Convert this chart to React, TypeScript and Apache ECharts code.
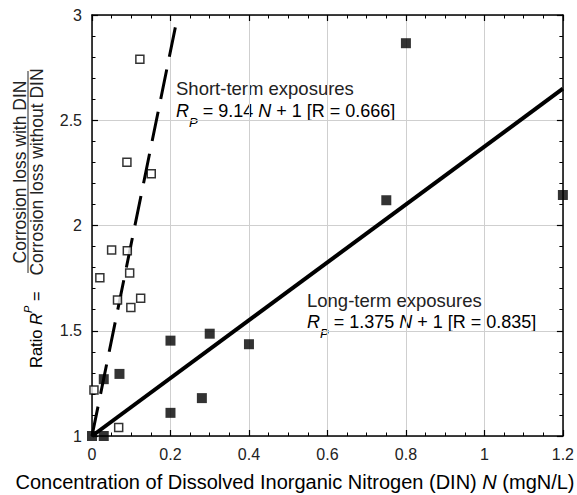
import React, { useEffect, useRef } from "react";
import * as echarts from "echarts";

const xTickValues = [0, 0.2, 0.4, 0.6, 0.8, 1, 1.2];
const yTickValues = [1, 1.5, 2, 2.5, 3];

// Long-term exposures (filled squares)
const longN = [0, 0.03, 0.03, 0.07, 0.2, 0.2, 0.28, 0.3, 0.4, 0.75, 0.8, 1.2];
const longR = [1.0, 1.0, 1.27, 1.295, 1.453, 1.11, 1.18, 1.486, 1.436, 2.12, 2.866, 2.145];

// Short-term exposures (open squares)
const shortN = [0.122, 0.089, 0.151, 0.05, 0.09, 0.096, 0.02, 0.065, 0.124, 0.099, 0.005, 0.068];
const shortR = [2.79, 2.3, 2.246, 1.884, 1.88, 1.774, 1.752, 1.646, 1.654, 1.611, 1.219, 1.04];

// Fit lines (end points)
const shortFitN = [0, 0.2188];
const shortFitR = [1, 3];
const longFitN = [0, 1.2];
const longFitR = [1, 2.65];

const FONT = '"Liberation Sans", Arial, Helvetica, sans-serif';
const TXT = "#222";

const zip = (a: number[], b: number[]) => a.map((v, i) => [v, b[i]]);

export default function App() {
  const ref = useRef<HTMLDivElement>(null);
  useEffect(() => {
    if (!ref.current) return;
    const chart = echarts.init(ref.current, null, { renderer: "svg" });
    const axisCommon = {
      type: "value" as const,
      axisLine: { show: true, onZero: false, lineStyle: { color: "#000", width: 1.5 } },
      axisTick: { show: true, inside: true, length: 6, lineStyle: { color: "#000", width: 1.2 } },
      minorTick: { show: true, length: 3.5, lineStyle: { color: "#000", width: 1 } },
    };
    const rich18 = {
      n: { fontSize: 18, fontFamily: FONT, color: TXT, lineHeight: 35 },
      i: { fontSize: 18, fontFamily: FONT, color: TXT, fontStyle: "italic", lineHeight: 35 },
      sub: { fontSize: 13, fontFamily: FONT, color: TXT, fontStyle: "italic", verticalAlign: "bottom", lineHeight: 14 },
    };
    const option: any = {
      animation: false,
      backgroundColor: "#fff",
      grid: { left: 92, right: 11, top: 15, bottom: 59, containLabel: false },
      xAxis: [
        {
          ...axisCommon,
          min: 0,
          max: 1.2,
          interval: 0.2,
          position: "bottom",
          minorTick: { ...axisCommon.minorTick, splitNumber: 4 },
          splitLine: { show: true, lineStyle: { color: "#cfcfcf", width: 1 } },
          axisLabel: {
            show: true,
            margin: 10,
            fontSize: 16,
            fontFamily: FONT,
            color: TXT,
            formatter: (v: number) => String(xTickValues.find((t) => Math.abs(t - v) < 1e-9) ?? v),
          },
        },
        {
          ...axisCommon,
          min: 0,
          max: 1.2,
          interval: 0.2,
          position: "top",
          minorTick: { ...axisCommon.minorTick, splitNumber: 4 },
          splitLine: { show: false },
          axisLabel: { show: false },
        },
      ],
      yAxis: [
        {
          ...axisCommon,
          min: 1,
          max: 3,
          interval: 0.5,
          position: "left",
          minorTick: { ...axisCommon.minorTick, splitNumber: 5 },
          splitLine: { show: true, lineStyle: { color: "#cfcfcf", width: 1 } },
          axisLabel: {
            show: true,
            margin: 10,
            fontSize: 16,
            fontFamily: FONT,
            color: TXT,
            formatter: (v: number) => String(yTickValues.find((t) => Math.abs(t - v) < 1e-9) ?? v),
          },
        },
        {
          ...axisCommon,
          min: 1,
          max: 3,
          interval: 0.5,
          position: "right",
          minorTick: { ...axisCommon.minorTick, splitNumber: 5 },
          splitLine: { show: false },
          axisLabel: { show: false },
        },
      ],
      series: [
        {
          type: "line",
          data: zip(longFitN, longFitR),
          showSymbol: false,
          symbol: "none",
          lineStyle: { color: "#000", width: 4 },
          z: 2,
        },
        {
          type: "line",
          data: zip(shortFitN, shortFitR),
          showSymbol: false,
          symbol: "none",
          lineStyle: { color: "#000", width: 3, type: [30, 13] },
          z: 2,
        },
        {
          type: "scatter",
          data: zip(longN, longR),
          symbol: "rect",
          symbolSize: 10,
          itemStyle: { color: "#000" },
          z: 3,
        },
        {
          type: "scatter",
          data: zip(shortN, shortR),
          symbol: "rect",
          symbolSize: 8,
          itemStyle: { color: "#fff", borderColor: "#000", borderWidth: 1.5 },
          z: 4,
        },
      ],
      graphic: [
        // annotations
        {
          type: "text",
          x: 176,
          y: 88,
          style: { text: "Short-term exposures", font: `18.5px ${FONT}`, fill: TXT, textAlign: "left", textVerticalAlign: "middle" },
        },
        {
          type: "text",
          x: 176,
          y: 111,
          style: {
            text: "{i|R}{sub|P}{n| = 9.14 }{i|N}{n| + 1 [R = 0.666]}",
            rich: rich18,
            textAlign: "left",
            textVerticalAlign: "middle",
          },
        },
        {
          type: "text",
          x: 307,
          y: 300,
          style: { text: "Long-term exposures", font: `18.5px ${FONT}`, fill: TXT, textAlign: "left", textVerticalAlign: "middle" },
        },
        {
          type: "text",
          x: 307,
          y: 322,
          style: {
            text: "{i|R}{sub|P}{n| = 1.375 }{i|N}{n| + 1 [R = 0.835]}",
            rich: rich18,
            textAlign: "left",
            textVerticalAlign: "middle",
          },
        },
        // x axis title
        {
          type: "text",
          x: 295,
          y: 482,
          style: {
            text: "{n|Concentration of Dissolved Inorganic Nitrogen (DIN) }{i|N}{n| (mgN/L)}",
            rich: {
              n: { fontSize: 20, fontFamily: FONT, color: TXT },
              i: { fontSize: 20, fontFamily: FONT, color: TXT, fontStyle: "italic" },
            },
            textAlign: "center",
            textVerticalAlign: "middle",
          },
        },
        // y axis title pieces (rotated)
        {
          type: "text",
          x: 36,
          y: 368,
          rotation: Math.PI / 2,
          style: {
            text: "{n|Ratio }{i|R}{sup|P}{n| =}",
            rich: {
              n: { fontSize: 16.5, fontFamily: FONT, color: TXT, lineHeight: 28 },
              i: { fontSize: 16.5, fontFamily: FONT, color: TXT, fontStyle: "italic", lineHeight: 28 },
              sup: { fontSize: 11, fontFamily: FONT, color: TXT, fontStyle: "italic", verticalAlign: "top", lineHeight: 12 },
            },
            textAlign: "left",
            textVerticalAlign: "middle",
          },
        },
        {
          type: "text",
          x: 20,
          y: 172,
          rotation: Math.PI / 2,
          style: { text: "Corrosion loss with DIN", font: `17.5px ${FONT}`, fill: TXT, textAlign: "center", textVerticalAlign: "middle" },
        },
        {
          type: "line",
          shape: { x1: 28, y1: 71, x2: 28, y2: 273 },
          style: { stroke: TXT, lineWidth: 1 },
        },
        {
          type: "text",
          x: 37,
          y: 172,
          rotation: Math.PI / 2,
          style: { text: "Corrosion loss without DIN", font: `17.5px ${FONT}`, fill: TXT, textAlign: "center", textVerticalAlign: "middle" },
        },
      ],
    };
    chart.setOption(option);
    return () => chart.dispose();
  }, []);
  return <div ref={ref} style={{ position: "fixed", left: 0, top: 0, width: 577, height: 495 }} />;
}
